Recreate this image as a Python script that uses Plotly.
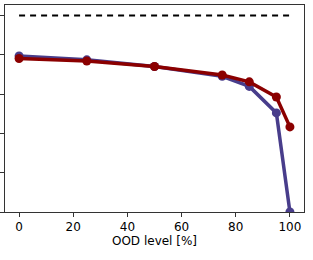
import plotly.graph_objects as go

ood_levels = [0, 25, 50, 75, 85, 95, 100]
series_blue = [0.794, 0.774, 0.740, 0.690, 0.639, 0.504, 0.0]
series_red = [0.781, 0.768, 0.740, 0.697, 0.662, 0.585, 0.433]
reference_x = [0, 100]
reference_y = [1.0, 1.0]
x_ticks = [0, 20, 40, 60, 80, 100]
y_ticks = [0, 0.2, 0.4, 0.6, 0.8, 1.0]

fig = go.Figure()
fig.add_trace(go.Scatter(x=reference_x, y=reference_y, mode="lines",
                         line=dict(color="black", width=2, dash="6px,5px"),
                         showlegend=False, hoverinfo="skip"))
fig.add_trace(go.Scatter(x=ood_levels, y=series_blue, mode="lines+markers",
                         line=dict(color="#483D8B", width=3.5),
                         marker=dict(color="#483D8B", size=9),
                         showlegend=False))
fig.add_trace(go.Scatter(x=ood_levels, y=series_red, mode="lines+markers",
                         line=dict(color="#8B0000", width=3.5),
                         marker=dict(color="#8B0000", size=9),
                         showlegend=False))

fig.update_layout(
    width=313, height=260,
    margin=dict(l=5, r=9, t=5, b=48),
    plot_bgcolor="white", paper_bgcolor="white",
    font=dict(family="DejaVu Sans", size=12, color="black"),
    xaxis=dict(range=[-5.2, 105.2], tickvals=x_ticks, ticks="outside", ticklen=4,
               tickcolor="#333", showline=True, linecolor="#333", linewidth=1,
               mirror=True, showgrid=False, zeroline=False, automargin=False,
               title=dict(text="OOD level [%]", standoff=2, font=dict(size=12))),
    yaxis=dict(range=[0, 1.053], tickvals=y_ticks, showticklabels=False,
               ticks="outside", ticklen=4, tickcolor="#333", showline=True,
               linecolor="#333", linewidth=1, mirror=True, showgrid=False,
               zeroline=False, automargin=False),
)

fig.write_html("out.html", config={"displayModeBar": False},
               post_script="document.body.style.margin='0';document.body.style.padding='0';")
